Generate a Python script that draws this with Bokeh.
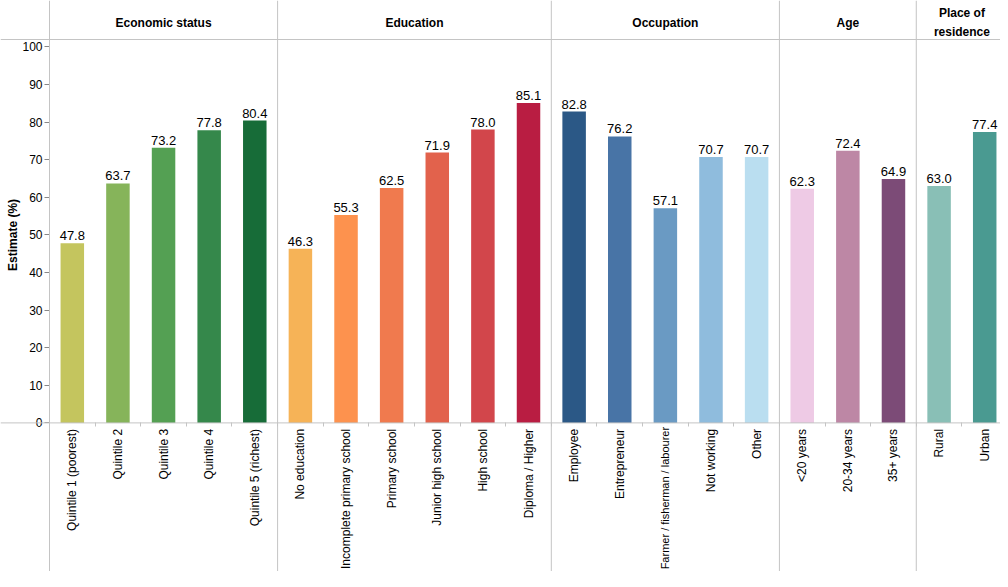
import math
from bokeh.plotting import figure
from bokeh.models import Range1d, LinearAxis, FixedTicker, Span, ColumnDataSource
from bokeh.core.properties import value
from bokeh.transform import dodge
from bokeh.embed import file_html
from bokeh.resources import INLINE

# ---------------- data ----------------
econ_cats = ["Quintile 1 (poorest)", "Quintile 2", "Quintile 3", "Quintile 4", "Quintile 5 (richest)"]
econ_vals = [47.8, 63.7, 73.2, 77.8, 80.4]
econ_colors = ["#c4c55e", "#86b45a", "#54a053", "#35884b", "#176c38"]

edu_cats = ["No education", "Incomplete primary school", "Primary school",
            "Junior high school", "High school", "Diploma / Higher"]
edu_vals = [46.3, 55.3, 62.5, 71.9, 78.0, 85.1]
edu_colors = ["#f6b357", "#fd924e", "#f07a4e", "#e2624c", "#d2464b", "#b91d42"]

occ_cats = ["Employee", "Entrepreneur", "Farmer / fisherman / labourer", "Not working", "Other"]
occ_vals = [82.8, 76.2, 57.1, 70.7, 70.7]
occ_colors = ["#2b5886", "#4874a6", "#6a9ac3", "#8fbcdd", "#badef0"]

age_cats = ["<20 years", "20-34 years", "35+ years"]
age_vals = [62.3, 72.4, 64.9]
age_colors = ["#eecae5", "#bd87a5", "#7c4b77"]

res_cats = ["Rural", "Urban"]
res_vals = [63.0, 77.4]
res_colors = ["#89bfb6", "#4a9a91"]

group_names = ["Economic status", "Education", "Occupation", "Age", "Place of\nresidence"]
y_ticks = [0, 10, 20, 30, 40, 50, 60, 70, 80, 90, 100]
y_title = "Estimate (%)"

groups = [
    (econ_cats, econ_vals, econ_colors),
    (edu_cats, edu_vals, edu_colors),
    (occ_cats, occ_vals, occ_colors),
    (age_cats, age_vals, age_colors),
    (res_cats, res_vals, res_colors),
]

cats, vals, colors, group_start = [], [], [], []
for c, v, col in groups:
    group_start.append(len(cats))
    cats += c
    vals += v
    colors += col
n = len(cats)
idx = list(range(n))
group_end = group_start[1:] + [n]
group_centers = [(s + e - 1) / 2 for s, e in zip(group_start, group_end)]
boundaries = [s - 0.5 for s in group_start] + [n - 0.5]
tick_bounds = [i - 0.5 for i in range(n + 1)]

# ---------------- layout (pixels) ----------------
W, H = 1000, 571
BAND = 45.62      # px per category
LEFT = 49         # px from canvas left to first facet
ZERO = 422.4      # px from canvas top to value 0
PXU = 3.76        # px per percentage point
HEADER_LINE = 39  # px from top
HEADER_TEXT = 22
TITLE_X = 12
LABEL_GAP = 3
MAX_LABEL_CHARS = 25   # longer tick labels are set smaller so they fit the canvas

x_start = -0.5 - LEFT / BAND
x_end = x_start + W / BAND
y_end = ZERO / PXU
y_start = -(H - ZERO) / PXU

FONT = "Liberation Sans"
LINE = "#c4c4c4"

p = figure(width=W, height=H, x_range=Range1d(x_start, x_end), y_range=Range1d(y_start, y_end),
           x_axis_type=None, y_axis_type=None, output_backend="svg", toolbar_location=None,
           min_border=0, outline_line_color=None)
p.background_fill_color = "white"
p.border_fill_color = "white"

src = ColumnDataSource(dict(x=idx, top=vals, color=colors,
                            label=[f"{v:.1f}" for v in vals]))
p.vbar(x="x", top="top", bottom=0, width=23.5 / BAND, fill_color="color",
       line_color=None, source=src)
p.text(x="x", y=dodge("top", LABEL_GAP / PXU, range=p.y_range), text="label", source=src,
       text_align="center", text_baseline="bottom", text_font=value(FONT),
       text_font_size="13px", text_color="#000")

# facet separators and header/baseline rules
for b in boundaries:
    p.add_layout(Span(location=b, dimension="height", line_color=LINE, line_width=1))
p.add_layout(Span(location=0, dimension="width", line_color=LINE, line_width=1))
p.add_layout(Span(location=(ZERO - HEADER_LINE) / PXU, dimension="width",
                  line_color=LINE, line_width=1))

# facet headers
hy = (ZERO - HEADER_TEXT) / PXU
p.text(x=group_centers, y=[hy] * len(group_names), text=group_names,
       text_align="center", text_baseline="middle", text_font=value(FONT),
       text_font_size="12px", text_font_style="bold", text_color="#000",
       text_line_height=1.33)

# y-axis title
p.text(x=[x_start + TITLE_X / BAND], y=[50], text=[y_title], angle=math.pi / 2,
       text_align="center", text_baseline="middle", text_font=value(FONT),
       text_font_size="12px", text_font_style="bold", text_color="#000")

# y axis
yaxis = LinearAxis(ticker=FixedTicker(ticks=y_ticks), fixed_location=-0.5,
                   axis_line_color=None, major_tick_line_color="#888888",
                   major_tick_out=5, major_tick_in=0, minor_tick_line_color=None,
                   major_label_standoff=2, major_label_text_font=FONT,
                   major_label_text_font_size="12px", major_label_text_color="#000")
p.add_layout(yaxis, "left")

# x tick marks at band boundaries
xticks = LinearAxis(ticker=FixedTicker(ticks=tick_bounds), fixed_location=0,
                    axis_line_color=None, major_tick_line_color=LINE,
                    major_tick_out=4, major_tick_in=0, minor_tick_line_color=None,
                    major_label_text_color=None)
p.add_layout(xticks, "below")

# x category labels (normal and long ones)
normal = [i for i in idx if len(cats[i]) <= MAX_LABEL_CHARS]
longer = [i for i in idx if len(cats[i]) > MAX_LABEL_CHARS]
for ticks, size, standoff in ((normal, "12px", 6), (longer, "11px", 4)):
    if not ticks:
        continue
    ax = LinearAxis(ticker=FixedTicker(ticks=ticks), fixed_location=0,
                    major_label_overrides={i: cats[i] for i in ticks},
                    axis_line_color=None, major_tick_line_color=None,
                    major_tick_out=0, major_tick_in=0, minor_tick_line_color=None,
                    major_label_orientation=math.pi / 2, major_label_standoff=standoff,
                    major_label_text_font=FONT, major_label_text_font_size=size,
                    major_label_text_color="#000")
    p.add_layout(ax, "below")

open("out.html", "w").write(file_html(p, INLINE))
